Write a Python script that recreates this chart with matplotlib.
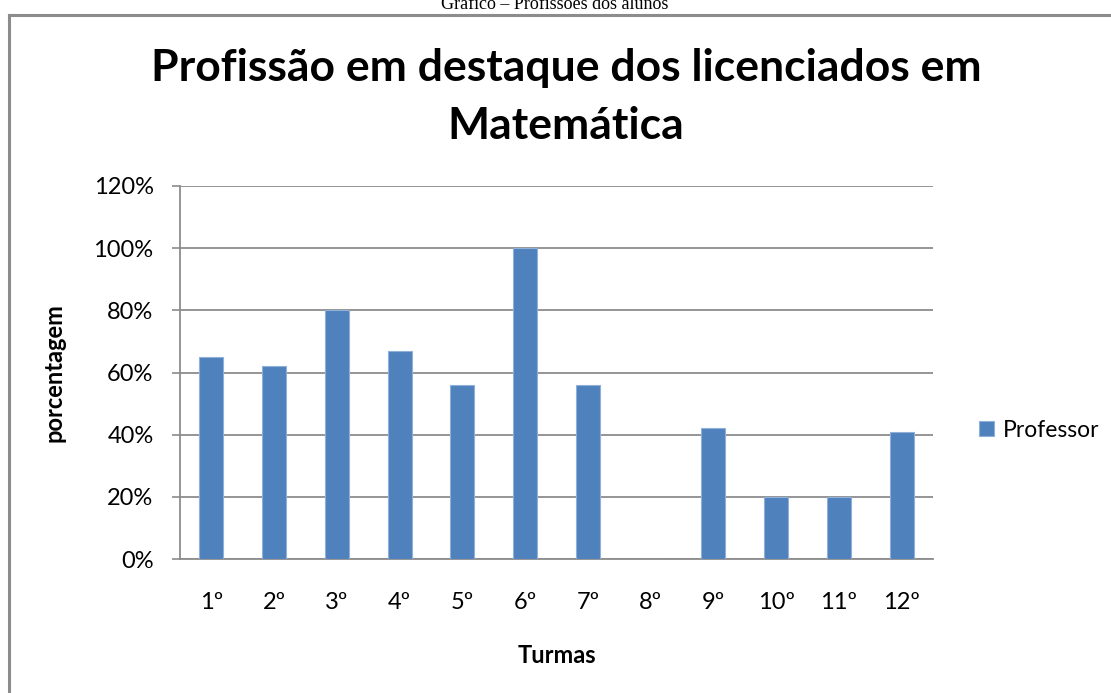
import matplotlib
matplotlib.use("Agg")
import matplotlib.pyplot as plt
from matplotlib.ticker import FuncFormatter
from matplotlib.lines import Line2D

categories = ["1º", "2º", "3º", "4º", "5º", "6º", "7º", "8º", "9º", "10º", "11º", "12º"]
values = [65, 62, 80, 67, 56, 100, 56, 0, 42, 20, 20, 41]
series_name = "Professor"
yticks = [0, 20, 40, 60, 80, 100, 120]

plt.rcParams['font.family'] = ['Lato', 'DejaVu Sans']

fig = plt.figure(figsize=(11.11, 6.93), dpi=100)
W, H = 1111, 693

# outer frame (border of the embedded chart)
fig.add_artist(Line2D([8.5/W, 8.5/W], [0, 1 - 15/H], transform=fig.transFigure,
                      color='#8c8c8c', lw=2.2))
fig.add_artist(Line2D([8.5/W, 1.0], [1 - 15/H, 1 - 15/H], transform=fig.transFigure,
                      color='#8c8c8c', lw=2.2))

# caption above, clipped at top
fig.text(555/W, 1 - 9/H, "Gráfico – Profissões dos alunos", ha='center', va='baseline',
         fontsize=13, family=['Liberation Serif'], color='black')

ax = fig.add_axes([180/W, 1 - 559/H, (933 - 180)/W, (559 - 186)/H])
x = list(range(len(categories)))
bars = ax.bar(x, values, width=0.38, color='#4F81BD', edgecolor='#8fb0d9', linewidth=0.8,
              label=series_name, zorder=3)
ax.set_xlim(-0.5, len(categories) - 0.5)
ax.set_ylim(0, 120)
ax.set_yticks(yticks)
ax.yaxis.set_major_formatter(FuncFormatter(lambda v, p: f"{int(v)}%"))
ax.set_xticks(x)
ax.set_xticklabels(categories)
ax.tick_params(axis='x', length=0, pad=24, labelsize=17, colors='black')
ax.tick_params(axis='y', length=6, width=1.2, color='#8c8c8c', pad=13, labelsize=17)
ax.grid(axis='y', color='#8c8c8c', lw=1.3, zorder=0)
for s in ['top', 'right']:
    ax.spines[s].set_visible(False)
for s in ['left', 'bottom']:
    ax.spines[s].set_color('#8c8c8c')
    ax.spines[s].set_linewidth(1.3)

ax.set_ylabel("porcentagem", fontsize=17, fontweight='bold', labelpad=20)
ax.set_xlabel("Turmas", fontsize=17, fontweight='bold', labelpad=22)

fig.text(566/W, 1 - 68/H, "Profissão em destaque dos licenciados em", ha='center', va='center',
         fontsize=32, fontweight='bold')
fig.text(566/W, 1 - 126/H, "Matemática", ha='center', va='center',
         fontsize=32, fontweight='bold')

leg = fig.legend(handles=[bars], labels=[series_name], loc='center left',
                 bbox_to_anchor=(958/W, 1 - 430/H), frameon=False, fontsize=16.5,
                 handlelength=0.65, handleheight=0.65, handletextpad=0.4)

fig.savefig("out.png", dpi=100)
